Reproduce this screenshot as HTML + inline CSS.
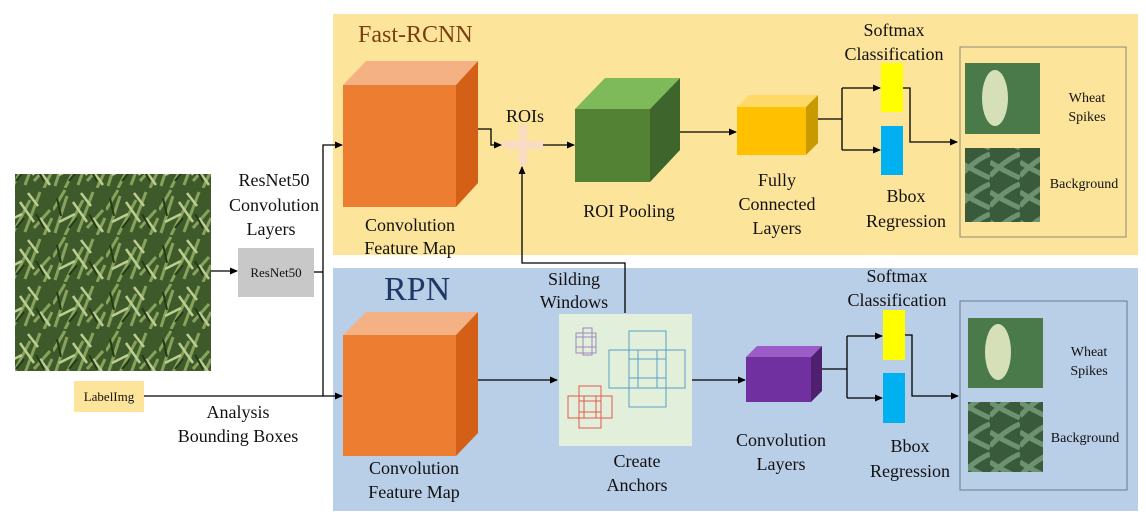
<!DOCTYPE html>
<html><head><meta charset="utf-8"><style>
html,body{margin:0;padding:0;background:#fff}
svg{display:block}
text{font-family:"Liberation Serif",serif;fill:#111}
</style></head><body>
<svg width="1146" height="524" viewBox="0 0 1146 524" xmlns="http://www.w3.org/2000/svg">
<defs>
<marker id="a" markerWidth="8" markerHeight="8" refX="7" refY="4" orient="auto" markerUnits="userSpaceOnUse"><path d="M0,0.5 L8,4 L0,7.5 Z" fill="#000"/></marker>
<pattern id="grass" width="53" height="47" patternUnits="userSpaceOnUse">
<rect width="53" height="47" fill="#3f5a2a"/>
<path d="M2,45 L14,8 M12,47 L30,12 M25,44 L40,4 M34,40 L50,22 M0,22 L12,2 M44,47 L52,30" stroke="#86a35c" stroke-width="3"/>
<path d="M6,34 L22,26 M20,14 L34,34 M28,5 L38,18 M40,30 L50,44" stroke="#bccd92" stroke-width="2.5"/>
<path d="M4,10 L8,28 M36,26 L44,40 M16,40 L24,30" stroke="#263a18" stroke-width="2"/>
</pattern>
<pattern id="leaf" width="30" height="30" patternUnits="userSpaceOnUse">
<rect width="30" height="30" fill="#3a5a3c"/>
<path d="M0,26 Q15,10 30,4 M0,12 Q12,20 30,28" stroke="#6d9270" stroke-width="5" fill="none"/>
</pattern>
</defs>

<rect x="333" y="14" width="805" height="241" fill="#fde49b"/>
<rect x="333" y="268" width="805" height="243" fill="#b9cee7"/>

<rect x="15" y="174" width="196" height="197" fill="url(#grass)"/>
<text x="274" y="212" font-size="18" text-anchor="middle" dy="-26">ResNet50</text>
<text x="274" y="211" font-size="18" text-anchor="middle">Convolution</text>
<text x="271" y="235" font-size="18" text-anchor="middle">Layers</text>
<rect x="238" y="248" width="76" height="49" fill="#c8c8c8"/>
<text x="276" y="277" font-size="13" text-anchor="middle">ResNet50</text>
<line x1="211" y1="271" x2="237" y2="271" stroke="#000" stroke-width="1.3" marker-end="url(#a)"/>
<line x1="314" y1="272" x2="323" y2="272" stroke="#000" stroke-width="1.3"/>
<rect x="74" y="381" width="70" height="31" fill="#fde49b"/>
<text x="109" y="401" font-size="13" text-anchor="middle">LabelImg</text>
<text x="238" y="418" font-size="18" text-anchor="middle">Analysis</text>
<text x="238" y="442" font-size="18" text-anchor="middle">Bounding Boxes</text>
<polyline points="144,396 342,396" fill="none" stroke="#000" stroke-width="1.3" marker-end="url(#a)"/>
<polyline points="323,396 323,145 342,145" fill="none" stroke="#000" stroke-width="1.3" marker-end="url(#a)"/>

<text x="358" y="42" font-size="24" style="fill:#7b3f0f">Fast-RCNN</text>
<polygon points="343,85 366,61 478,61 456,85" fill="#f4b183"/>
<polygon points="456,85 478,61 478,183 456,207" fill="#d36016"/>
<rect x="343" y="85" width="113" height="122" fill="#ed7d31"/>
<text x="410" y="231" font-size="18" text-anchor="middle">Convolution</text>
<text x="410" y="254" font-size="18" text-anchor="middle">Feature Map</text>
<polyline points="478,129 491,129 491,145 501,145" fill="none" stroke="#000" stroke-width="1.3" marker-end="url(#a)"/>
<text x="525" y="122" font-size="18" text-anchor="middle">ROIs</text>
<rect x="503" y="141" width="40" height="8" fill="#f8dcc4"/>
<rect x="519" y="125" width="8" height="40" fill="#f8dcc4"/>
<line x1="543" y1="145" x2="574" y2="145" stroke="#000" stroke-width="1.3" marker-end="url(#a)"/>
<polygon points="575,109 605,78 680,78 650,109" fill="#7fba5a"/>
<polygon points="650,109 680,78 680,150 650,182" fill="#3e652c"/>
<rect x="575" y="109" width="75" height="73" fill="#548235"/>
<text x="629" y="217" font-size="18" text-anchor="middle">ROI Pooling</text>
<line x1="680" y1="132" x2="736" y2="132" stroke="#000" stroke-width="1.3" marker-end="url(#a)"/>
<polygon points="737,107 749,95 818,95 806,107" fill="#ffd966"/>
<polygon points="806,107 818,95 818,143 806,155" fill="#c99a00"/>
<rect x="737" y="107" width="69" height="48" fill="#ffc000"/>
<text x="777" y="186" font-size="18" text-anchor="middle">Fully</text>
<text x="777" y="210" font-size="18" text-anchor="middle">Connected</text>
<text x="777" y="234" font-size="18" text-anchor="middle">Layers</text>
<polyline points="818,119 842,119" fill="none" stroke="#000" stroke-width="1.3"/>
<polyline points="842,88 842,150" fill="none" stroke="#000" stroke-width="1.3"/>
<line x1="842" y1="88" x2="880" y2="88" stroke="#000" stroke-width="1.3" marker-end="url(#a)"/>
<line x1="842" y1="150" x2="880" y2="150" stroke="#000" stroke-width="1.3" marker-end="url(#a)"/>
<text x="894" y="36" font-size="18" text-anchor="middle">Softmax</text>
<text x="894" y="60" font-size="18" text-anchor="middle">Classification</text>
<rect x="881" y="63" width="22" height="49" fill="#ffff00"/>
<rect x="881" y="126" width="22" height="49" fill="#00b0f0"/>
<text x="906" y="202" font-size="18" text-anchor="middle">Bbox</text>
<text x="906" y="227" font-size="18" text-anchor="middle">Regression</text>
<polyline points="903,88 910,88 910,142 957,142" fill="none" stroke="#000" stroke-width="1.3" marker-end="url(#a)"/>
<rect x="960" y="47" width="166" height="190" fill="none" stroke="#8a8a7a" stroke-width="1"/>
<rect x="965" y="63" width="75" height="71" fill="#4a7a4a"/>
<ellipse cx="995" cy="98" rx="13" ry="28" fill="#d6e0b8"/>
<rect x="965" y="148" width="75" height="74" fill="url(#leaf)"/>
<text x="1087" y="102" font-size="14" text-anchor="middle">Wheat</text>
<text x="1087" y="121" font-size="14" text-anchor="middle">Spikes</text>
<text x="1084" y="188" font-size="14" text-anchor="middle">Background</text>

<text x="384" y="300" font-size="34" style="fill:#1f3864">RPN</text>
<polygon points="343,335 366,312 478,312 456,335" fill="#f4b183"/>
<polygon points="456,335 478,312 478,433 456,456" fill="#d36016"/>
<rect x="343" y="335" width="113" height="121" fill="#ed7d31"/>
<text x="414" y="474" font-size="18" text-anchor="middle">Convolution</text>
<text x="414" y="498" font-size="18" text-anchor="middle">Feature Map</text>
<line x1="478" y1="380" x2="557" y2="380" stroke="#000" stroke-width="1.3" marker-end="url(#a)"/>
<polyline points="625,313 625,263 522,263 522,167" fill="none" stroke="#000" stroke-width="1.3" marker-end="url(#a)"/>
<text x="574" y="285" font-size="18" text-anchor="middle">Silding</text>
<text x="574" y="308" font-size="18" text-anchor="middle">Windows</text>
<rect x="559" y="314" width="133" height="132" fill="#e2efda"/>
<g fill="none" stroke-width="1">
<g stroke="#a08ac0"><rect x="576" y="333" width="20" height="20"/><rect x="583" y="328" width="9" height="27"/><rect x="576" y="337" width="20" height="10"/></g>
<g stroke="#5aa0c8"><rect x="629" y="331" width="37" height="76"/><rect x="609" y="350" width="76" height="38"/><rect x="638" y="350" width="19" height="38"/><rect x="629" y="359" width="37" height="19"/></g>
<g stroke="#e05a50"><rect x="568" y="396" width="44" height="22"/><rect x="579" y="386" width="22" height="42"/><rect x="584" y="396" width="12" height="22"/><rect x="579" y="401" width="22" height="11"/></g>
</g>
<text x="637" y="467" font-size="18" text-anchor="middle">Create</text>
<text x="637" y="491" font-size="18" text-anchor="middle">Anchors</text>
<line x1="692" y1="380" x2="745" y2="380" stroke="#000" stroke-width="1.3" marker-end="url(#a)"/>
<polygon points="746,357 757,346 822,346 811,357" fill="#9b5cc8"/>
<polygon points="811,357 822,346 822,391 811,402" fill="#4f2070"/>
<rect x="746" y="357" width="65" height="45" fill="#7030a0"/>
<text x="781" y="446" font-size="18" text-anchor="middle">Convolution</text>
<text x="781" y="470" font-size="18" text-anchor="middle">Layers</text>
<polyline points="822,369 847,369" fill="none" stroke="#000" stroke-width="1.3"/>
<polyline points="847,336 847,398" fill="none" stroke="#000" stroke-width="1.3"/>
<line x1="847" y1="336" x2="882" y2="336" stroke="#000" stroke-width="1.3" marker-end="url(#a)"/>
<line x1="847" y1="398" x2="882" y2="398" stroke="#000" stroke-width="1.3" marker-end="url(#a)"/>
<text x="897" y="282" font-size="18" text-anchor="middle">Softmax</text>
<text x="897" y="306" font-size="18" text-anchor="middle">Classification</text>
<rect x="883" y="310" width="22" height="50" fill="#ffff00"/>
<rect x="883" y="373" width="22" height="50" fill="#00b0f0"/>
<text x="910" y="452" font-size="18" text-anchor="middle">Bbox</text>
<text x="910" y="477" font-size="18" text-anchor="middle">Regression</text>
<polyline points="905,335 912,335 912,396 958,396" fill="none" stroke="#000" stroke-width="1.3" marker-end="url(#a)"/>
<rect x="960" y="301" width="167" height="189" fill="none" stroke="#6a7a8a" stroke-width="1"/>
<rect x="968" y="318" width="75" height="70" fill="#4a7a4a"/>
<ellipse cx="998" cy="352" rx="13" ry="28" fill="#d6e0b8"/>
<rect x="968" y="402" width="75" height="70" fill="url(#leaf)"/>
<text x="1089" y="356" font-size="14" text-anchor="middle">Wheat</text>
<text x="1089" y="375" font-size="14" text-anchor="middle">Spikes</text>
<text x="1085" y="442" font-size="14" text-anchor="middle">Background</text>
</svg>
</body></html>
